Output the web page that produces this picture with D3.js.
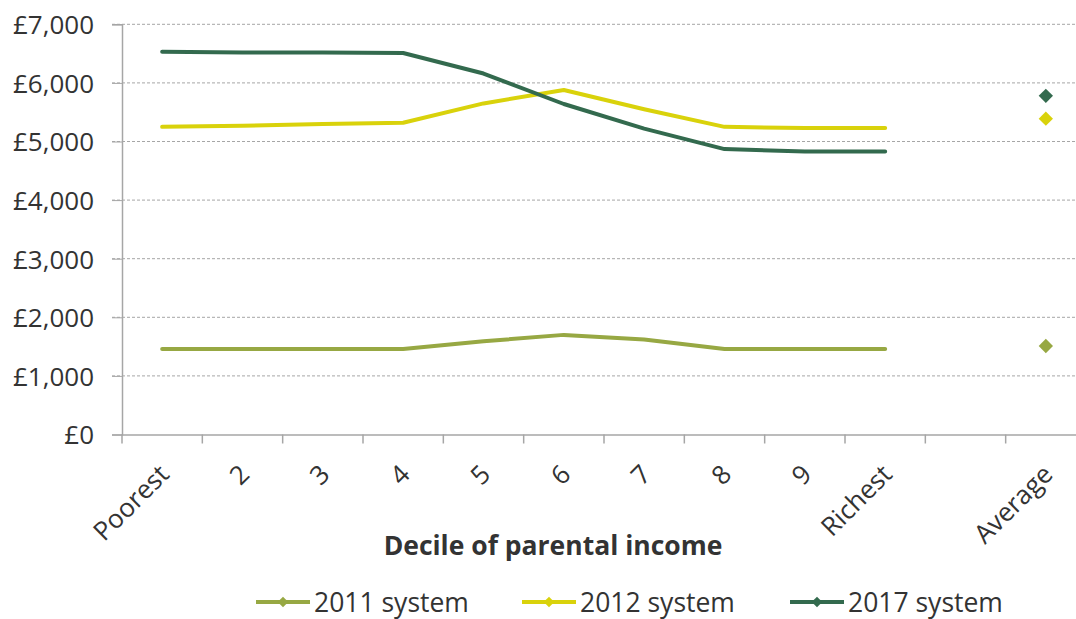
<!DOCTYPE html>
<html>
<head>
<meta charset="utf-8">
<script src="https://cdn.jsdelivr.net/npm/d3@7"></script>
<style>
  html, body { margin: 0; padding: 0; background: #fff; }
  svg { display: block; }
  text { font-family: "Open Sans", sans-serif; fill: #333; }
</style>
</head>
<body>
<svg id="chart" width="1076" height="619"></svg>
<script>
const categories = ["Poorest", "2", "3", "4", "5", "6", "7", "8", "9", "Richest", "", "Average"];
const series2011 = [1460, 1460, 1460, 1460, 1590, 1700, 1620, 1460, 1460, 1460];
const series2012 = [5250, 5270, 5300, 5320, 5650, 5880, 5550, 5250, 5230, 5230];
const series2017 = [6530, 6520, 6520, 6510, 6160, 5640, 5220, 4870, 4830, 4830];
const average2011 = 1510;
const average2012 = 5390;
const average2017 = 5780;
const seriesNames = ["2011 system", "2012 system", "2017 system"];
const seriesColors = ["#97a843", "#d9d20b", "#336a4e"];
const yTicks = [0, 1000, 2000, 3000, 4000, 5000, 6000, 7000];

const series = [
  { name: seriesNames[0], color: seriesColors[0], values: series2011, avg: average2011 },
  { name: seriesNames[1], color: seriesColors[1], values: series2012, avg: average2012 },
  { name: seriesNames[2], color: seriesColors[2], values: series2017, avg: average2017 }
];

const svg = d3.select("#chart");
const mLeft = 122, mRight = 1086, mTop = 24.3, mBottom = 434.5;

const x = d3.scaleBand().domain(categories.map((c, i) => i)).range([mLeft, mRight]).padding(0);
const y = d3.scaleLinear().domain([0, 7000]).range([mBottom, mTop]);
const fmt = v => "£" + d3.format(",")(v);

// gridlines
svg.append("g")
  .selectAll("line")
  .data(yTicks.filter(t => t > 0))
  .join("line")
  .attr("x1", mLeft - 10).attr("x2", 1076)
  .attr("y1", d => y(d)).attr("y2", d => y(d))
  .attr("stroke", "#a6a6a6").attr("stroke-width", 1)
  .attr("stroke-dasharray", "3,2");

// y axis
const yAxis = svg.append("g")
  .attr("transform", `translate(${mLeft},0)`)
  .call(d3.axisLeft(y).tickValues(yTicks).tickFormat(fmt).tickSize(10).tickPadding(18));
yAxis.select(".domain").attr("stroke", "#a6a6a6").attr("stroke-width", 1.5);
yAxis.selectAll(".tick line").attr("stroke", "#a6a6a6").attr("stroke-width", 1);
yAxis.selectAll("text").style("font-size", "26px").style("fill", "#333").attr("dy", "0.36em");

// x axis
const xAxis = svg.append("g")
  .attr("transform", `translate(0,${mBottom})`)
  .call(d3.axisBottom(x).tickFormat(i => categories[i]).tickSize(0));
xAxis.select(".domain").attr("stroke", "#a6a6a6").attr("stroke-width", 1.5);
xAxis.selectAll(".bnd")
  .data(d3.range(categories.length + 1))
  .join("line")
  .attr("class", "bnd")
  .attr("x1", i => mLeft + i * x.bandwidth()).attr("x2", i => mLeft + i * x.bandwidth())
  .attr("y1", 0).attr("y2", 9)
  .attr("stroke", "#a6a6a6").attr("stroke-width", 1.5);
xAxis.selectAll(".tick text")
  .style("font-size", "26px").style("fill", "#333")
  .attr("text-anchor", "end")
  .attr("y", 0)
  .attr("transform", "translate(2,35) rotate(-45)")
  .attr("dy", "0.35em");

// axis title
svg.append("text")
  .attr("x", 553).attr("y", 555)
  .attr("text-anchor", "middle")
  .style("font-size", "26.5px").style("font-weight", "bold")
  .text("Decile of parental income");

// lines
const line = d3.line()
  .x((d, i) => x(i) + x.bandwidth() / 2)
  .y(d => y(d));

svg.append("g")
  .selectAll("path")
  .data(series)
  .join("path")
  .attr("d", d => line(d.values))
  .attr("fill", "none")
  .attr("stroke", d => d.color)
  .attr("stroke-width", 4)
  .attr("stroke-linecap", "round")
  .attr("stroke-linejoin", "round");

// average markers
const diamond = d3.symbol().type(d3.symbolDiamond2).size(130);
svg.append("g")
  .selectAll("path")
  .data(series)
  .join("path")
  .attr("d", diamond)
  .attr("transform", d => `translate(${x(11) + x.bandwidth() / 2},${y(d.avg)})`)
  .attr("fill", d => d.color);

// legend
const legendX = [256, 522, 790];
const lg = svg.append("g")
  .selectAll("g")
  .data(series)
  .join("g")
  .attr("transform", (d, i) => `translate(${legendX[i]},602)`);
lg.append("line")
  .attr("x1", 0).attr("x2", 54).attr("y1", 0).attr("y2", 0)
  .attr("stroke", d => d.color).attr("stroke-width", 4);
lg.append("path")
  .attr("d", d3.symbol().type(d3.symbolDiamond2).size(72))
  .attr("transform", "translate(27,0)")
  .attr("fill", d => d.color);
lg.append("text")
  .attr("x", 58).attr("y", 0).attr("dy", "0.36em")
  .style("font-size", "26.5px")
  .text(d => d.name);
</script>
</body>
</html>
